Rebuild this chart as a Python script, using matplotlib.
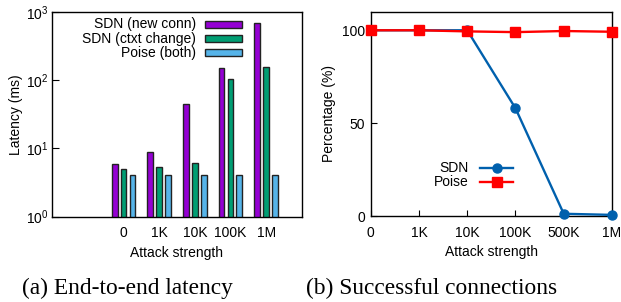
import matplotlib
matplotlib.use("Agg")
import matplotlib.pyplot as plt
from matplotlib.patches import Rectangle
from matplotlib.lines import Line2D
import numpy as np

plt.rcParams['font.family'] = ['Liberation Sans', 'DejaVu Sans']
plt.rcParams['font.size'] = 10

# Data (a) latency
lat_cats = ["0", "1K", "10K", "100K", "1M"]
sdn_new = [5.8, 8.9, 45, 152, 700]
sdn_ctxt = [5.0, 5.3, 6.1, 105, 155]
poise_both = [4.1, 4.1, 4.1, 4.1, 4.1]
lat_series = ["SDN (new conn)", "SDN (ctxt change)", "Poise (both)"]

# Data (b) success
succ_cats = ["0", "1K", "10K", "100K", "500K", "1M"]
sdn_succ = [100, 100, 100, 58, 1.2, 0.6]
poise_succ = [100, 100, 99.4, 99.0, 99.6, 99.2]

purple = "#9400D3"
green = "#009E73"
blue = "#56B4E9"
edge = "#222222"
lblue = "#0060AD"
red = "#FF0000"

fig = plt.figure(figsize=(6.21, 3.02), dpi=100)

# ---- (a) ----
ax1 = fig.add_axes([52.3/621, 1-216.5/302, (301.7-52.3)/621, (216.5-12)/302])
x = np.arange(len(lat_cats))
w = 0.16
off = 0.25
colors = [purple, green, blue]
for i, (vals, c) in enumerate(zip([sdn_new, sdn_ctxt, poise_both], colors)):
    ax1.bar(x + (i-1)*off, vals, width=w, color=c, edgecolor=edge, linewidth=1.0, zorder=2,
            bottom=0)
ax1.set_yscale('log')
ax1.set_ylim(1, 1000)
ax1.set_xlim(-2, 5)
ax1.set_xticks(x)
ax1.set_xticklabels(lat_cats)
ax1.tick_params(axis='x', length=0, pad=7)
ax1.tick_params(axis='y', which='major', direction='in', length=5, pad=3)
ax1.tick_params(axis='y', which='minor', length=0)
ax1.set_ylabel("Latency (ms)", labelpad=2)
ax1.set_xlabel("Attack strength", labelpad=4)
for s in ax1.spines.values():
    s.set_linewidth(1.0)

# manual legend (right aligned text, swatch right)
ty = [0.94, 0.87, 0.80]
for lbl, c, yy in zip(lat_series, colors, ty):
    ax1.text(0.575, yy, lbl, transform=ax1.transAxes, ha='right', va='center')
    ax1.add_patch(Rectangle((0.614, yy-0.017), 0.148, 0.034, transform=ax1.transAxes,
                            facecolor=c, edgecolor=edge, linewidth=1.0, clip_on=False))

# ---- (b) ----
ax2 = fig.add_axes([370.7/621, 1-216/302, (612-370.7)/621, (216-11.7)/302])
xs = np.arange(len(succ_cats))
ax2.plot(xs, sdn_succ, color=lblue, lw=1.7, marker='o', ms=6.5, clip_on=False, zorder=3)
ax2.plot(xs, poise_succ, color=red, lw=1.7, marker='s', ms=6.5, clip_on=False, zorder=4)
ax2.set_xlim(0, 5)
ax2.set_ylim(0, 110)
ax2.set_xticks(xs)
ax2.set_xticklabels(succ_cats)
ax2.set_yticks([0, 50, 100])
ax2.tick_params(axis='x', direction='in', length=4, pad=7)
ax2.tick_params(axis='y', direction='in', length=4, pad=4)
ax2.set_ylabel("Percentage (%)", labelpad=4)
ax2.set_xlabel("Attack strength", labelpad=4)
for s in ax2.spines.values():
    s.set_linewidth(1.0)

ly = [0.235, 0.165]
for lbl, c, m, yy in zip(["SDN", "Poise"], [lblue, red], ['o', 's'], ly):
    ax2.text(0.405, yy, lbl, transform=ax2.transAxes, ha='right', va='center')
    ax2.add_line(Line2D([0.455, 0.59], [yy, yy], transform=ax2.transAxes, color=c, lw=1.7))
    ax2.add_line(Line2D([0.5225], [yy], transform=ax2.transAxes, color=c, marker=m, ms=6.5))

# captions
fig.text(127/621, 1-288/302, "(a) End-to-end latency", ha='center', va='center',
         family=['Liberation Serif', 'DejaVu Serif'], fontsize=16.8)
fig.text(432/621, 1-288/302, "(b) Successful connections", ha='center', va='center',
         family=['Liberation Serif', 'DejaVu Serif'], fontsize=16.8)

fig.savefig("out.png", dpi=100)
